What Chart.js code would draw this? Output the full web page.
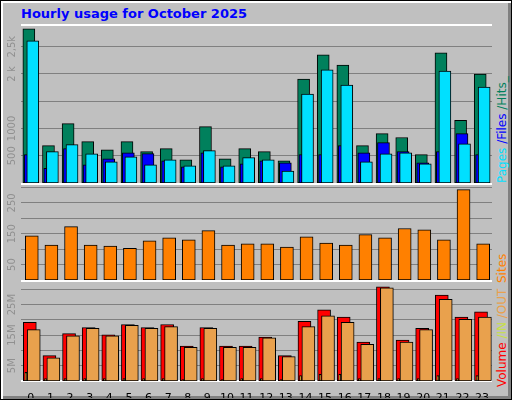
<!DOCTYPE html>
<html>
<head>
<meta charset="utf-8">
<script src="https://cdn.jsdelivr.net/npm/chart.js@4"></script>
<style>
body { margin: 0; background: #fff; }
#frame { position: absolute; left: 0; top: 0; width: 510px; height: 398px; background: #c0c0c0;
  border: 1px solid #000; box-shadow: inset 2px 2px 0 #fff, inset -3px -3px 0 #808080; font-family: "DejaVu Sans", sans-serif; }
#title { position: absolute; left: 20px; top: 5px; font: bold 13px "DejaVu Sans", sans-serif; color: #0000ff; }
.panel { position: absolute; left: 0; }
.side { position: absolute; font: 12px "DejaVu Sans", sans-serif; transform: rotate(-90deg); transform-origin: left top; white-space: nowrap; }
.line { position: absolute; left: 20px; width: 471px; height: 2px; background: #fff; }
</style>
</head>
<body>
<div id="frame">
  <div id="title">Hourly usage for October 2025</div>
  <div class="line" style="top:23px"></div>
  <div class="line" style="top:182px"></div>
  <div class="line" style="top:279px"></div>
  <div class="line" style="top:379px"></div>
  <div class="panel" style="top:25px;width:491px;height:157px"><canvas id="c1"></canvas></div>
  <div class="panel" style="top:184px;width:491px;height:95px"><canvas id="c2"></canvas></div>
  <div class="panel" style="top:281px;width:491px;height:116px"><canvas id="c3"></canvas></div>
  <div class="side" style="left:494px;top:182px"><span style="color:#00e0ff">Pages</span><span style="color:#0000ff"> /Files</span><span style="color:#00805c"> /Hits_</span></div>
  <div class="side" style="left:494px;top:282px"><span style="color:#ff8000">Sites</span></div>
  <div class="side" style="left:494px;top:386px"><span style="color:#ff0000">Volume</span><span style="color:#c8e040"> /IN</span><span style="color:#e9a14d"> /OUT</span></div>
</div>
<script>
const hours = [0,1,2,3,4,5,6,7,8,9,10,11,12,13,14,15,16,17,18,19,20,21,22,23];
const hits  = [2830,685,1090,760,610,760,575,630,425,1035,445,630,575,405,1905,2350,2165,685,905,835,520,2390,1150,2000];
const pages = [520,270,630,335,445,555,540,405,295,555,295,350,405,370,520,520,685,555,740,575,370,575,905,520];
const files = [2610,575,705,535,390,480,335,425,315,595,315,465,425,220,1630,2075,1795,390,535,555,350,2055,720,1760];
const sites = [143,113,173,113,110,103,127,137,130,160,113,117,117,107,140,120,113,147,137,167,163,130,293,117];
const volIn  = [2.8,0.8,0.8,0.8,0.8,0.8,0.8,0.8,0.5,0.8,0.5,0.8,0.8,0.5,1.8,2.2,2.2,0.8,0.8,0.8,0.8,1.8,0.8,1.8];
const volume = [19.2,8.3,15.5,17.5,15.1,18.5,17.5,18.5,11.4,17.5,11.4,11.4,14.4,8.3,19.5,23.3,20.9,12.7,30.8,13.4,17.2,28.1,20.9,22.6];
const volOut = [16.8,7.6,14.8,17.2,14.8,18.2,17.2,17.8,11.0,17.2,11.0,11.0,14.1,8.0,17.8,21.3,19.2,12.0,30.5,12.7,16.8,26.7,20.2,20.9];

function pts(vals, off, mult) {
  return vals.map((v, i) => ({ x: hours[i] + off, y: v * (mult || 1) }));
}
function bar(data, color, thick) {
  return { data: data, backgroundColor: color, borderColor: '#000', borderWidth: 1,
    borderSkipped: false, barThickness: thick, grouped: false };
}

// rotated y labels, drawn at the scale's own pixel positions
const yLabels = {
  id: 'yLabels',
  afterDraw(chart, args, opts) {
    const ctx = chart.ctx, y = chart.scales.y;
    ctx.save();
    ctx.fillStyle = '#909090';
    ctx.font = '10px "DejaVu Sans"';
    ctx.textAlign = 'center';
    ctx.textBaseline = 'middle';
    for (const v in opts.labels) {
      ctx.save();
      ctx.translate(11, y.getPixelForValue(Number(v)));
      ctx.rotate(-Math.PI / 2);
      ctx.fillText(opts.labels[v], 0, 0);
      ctx.restore();
    }
    ctx.restore();
  }
};

function makeChart(id, datasets, max, step, labels, showX) {
  new Chart(document.getElementById(id), {
    type: 'bar',
    data: { datasets: datasets },
    plugins: [yLabels],
    options: {
      responsive: true, maintainAspectRatio: false, animation: false,
      layout: { padding: 0 },
      plugins: { legend: { display: false }, tooltip: { enabled: false }, yLabels: { labels: labels } },
      scales: {
        x: { type: 'linear', min: -0.5, max: 23.5, offset: false,
          grid: { display: false }, border: { display: false },
          afterBuildTicks: s => { s.ticks = hours.map(h => ({ value: h })); },
          afterFit: s => { s.height = showX ? 17 : 0; },
          ticks: { display: showX, autoSkip: false, color: '#000', padding: 3,
            font: { family: 'DejaVu Sans', size: 11 }, maxRotation: 0, minRotation: 0,
            callback: v => String(v) } },
        y: { min: 0, max: max, border: { display: false },
          afterBuildTicks: s => {
            const t = [];
            for (let v = step; v < max; v += step) t.push({ value: v });
            s.ticks = t;
          },
          afterFit: s => { s.width = 20; },
          grid: { color: '#808080', lineWidth: 1, drawTicks: false },
          ticks: { display: false, autoSkip: false } }
      }
    }
  });
}

makeChart('c1', [
  bar(pts(files, 0.1), '#00e0ff', 12),
  bar(pts(pages, -0.03), '#0000ff', 12),
  bar(pts(hits, -0.1), '#00805c', 12)
], 2880, 500, { 500: '500', 1000: '1000', 2000: '2 k', 2500: '2,5k' }, false);

makeChart('c2', [
  bar(pts(sites, 0.05), '#ff8000', 13)
], 308, 50, { 50: '50', 150: '150', 250: '250' }, false);

makeChart('c3', [
  bar(pts(volIn, -0.25, 1e6), '#d8f040', 2),
  bar(pts(volOut, 0.15, 1e6), '#e9a14d', 13),
  bar(pts(volume, -0.05, 1e6), '#ff0000', 13)
], 32.4e6, 5e6, { 5e6: '5M', 15e6: '15M', 25e6: '25M' }, true);
</script>
</body>
</html>
